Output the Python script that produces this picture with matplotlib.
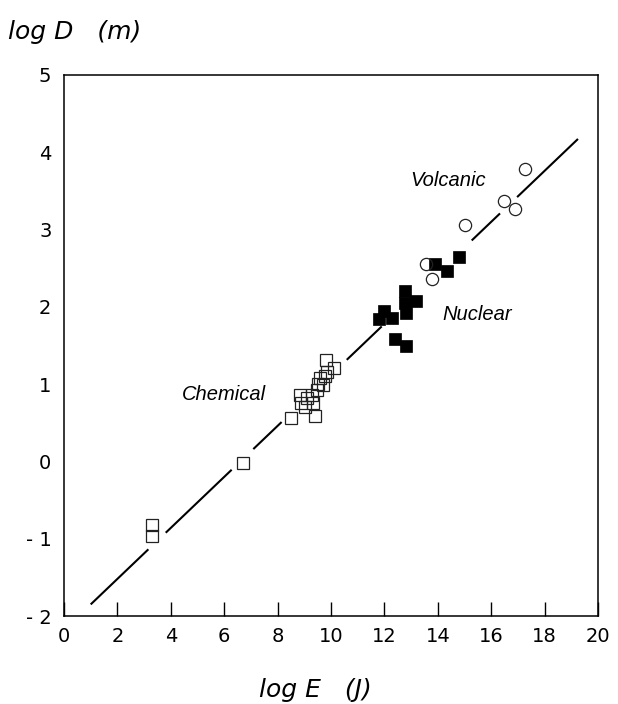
import matplotlib
matplotlib.use("Agg")
import matplotlib.pyplot as plt
import numpy as np

# ---- data ----
chem_x = [3.30, 3.30, 6.71, 8.51, 9.41, 9.80, 10.11, 8.84, 8.87, 9.09, 9.28, 9.46,
          9.52, 9.59, 9.78, 9.70, 9.33, 9.84, 9.03]
chem_y = [-0.82, -0.96, -0.02, 0.56, 0.59, 1.31, 1.21, 0.86, 0.76, 0.82, 0.86, 0.92,
          1.00, 1.08, 1.10, 0.99, 0.76, 1.16, 0.71]

nuc_x = [11.79, 11.99, 12.27, 12.78, 12.78, 13.17, 12.80, 12.40, 12.82, 13.90, 14.33, 14.79]
nuc_y = [1.84, 1.95, 1.85, 2.21, 2.05, 2.08, 1.92, 1.58, 1.50, 2.55, 2.46, 2.65]

volc_x = [13.55, 13.80, 15.03, 16.49, 16.89, 17.25]
volc_y = [2.55, 2.36, 3.06, 3.37, 3.27, 3.78]

# fitted line log D = a * log E + b, drawn in the visible pieces
fit_a, fit_b = 0.33, -2.18
line_pieces = [(1.0, 3.16), (3.81, 6.28), (7.09, 8.15), (10.59, 11.9),
               (15.27, 16.33), (16.97, 19.25)]

x_ticks = list(range(0, 21, 2))
y_ticks = list(range(-2, 6))
y_ticklabels = ["- 2", "- 1", "0", "1", "2", "3", "4", "5"]

labels = {"Volcanic": (14.38, 3.63), "Nuclear": (15.47, 1.90), "Chemical": (5.99, 0.87)}

# ---- figure ----
fig = plt.figure(figsize=(6.18, 7.04), dpi=100)
ax = fig.add_axes([64 / 618, 1 - 616 / 704, 534 / 618, 541 / 704])
ax.set_xlim(0, 20)
ax.set_ylim(-2, 5)

for x0, x1 in line_pieces:
    xs = np.array([x0, x1])
    ax.plot(xs, fit_a * xs + fit_b, color="black", lw=1.5, solid_capstyle="butt", zorder=2)

ax.plot(chem_x, chem_y, ls="none", marker="s", ms=9.2, mfc="none", mec="#222222",
        mew=0.9, zorder=3)
ax.plot(nuc_x, nuc_y, ls="none", marker="s", ms=9.2, mfc="black", mec="black",
        mew=0.5, zorder=3)
ax.plot(volc_x, volc_y, ls="none", marker="o", ms=8.8, mfc="none", mec="#222222",
        mew=0.9, zorder=3)

for name, (tx, ty) in labels.items():
    ax.text(tx, ty, name, ha="center", va="center", fontsize=14.5, style="italic",
            family="Liberation Sans")

ax.set_xticks(x_ticks)
ax.set_yticks(y_ticks)
ax.set_yticklabels(y_ticklabels)
ax.tick_params(axis="both", direction="in", length=10, width=1.0, labelsize=14,
               colors="black")
ax.tick_params(axis="x", pad=8)
ax.tick_params(axis="y", pad=9)
ax.tick_params(axis="y", length=0)
for sp in ax.spines.values():
    sp.set_linewidth(1.1)

for lab in ax.get_xticklabels() + ax.get_yticklabels():
    lab.set_family("DejaVu Sans")

fig.text(8 / 618, 1 - 32 / 704, "log D   (m)", ha="left", va="center", fontsize=18,
         style="italic", family="DejaVu Sans")
fig.text(315 / 618, 1 - 690 / 704, "log E   (J)", ha="center", va="center", fontsize=18,
         style="italic", family="DejaVu Sans")

fig.savefig("out.png", dpi=100)
